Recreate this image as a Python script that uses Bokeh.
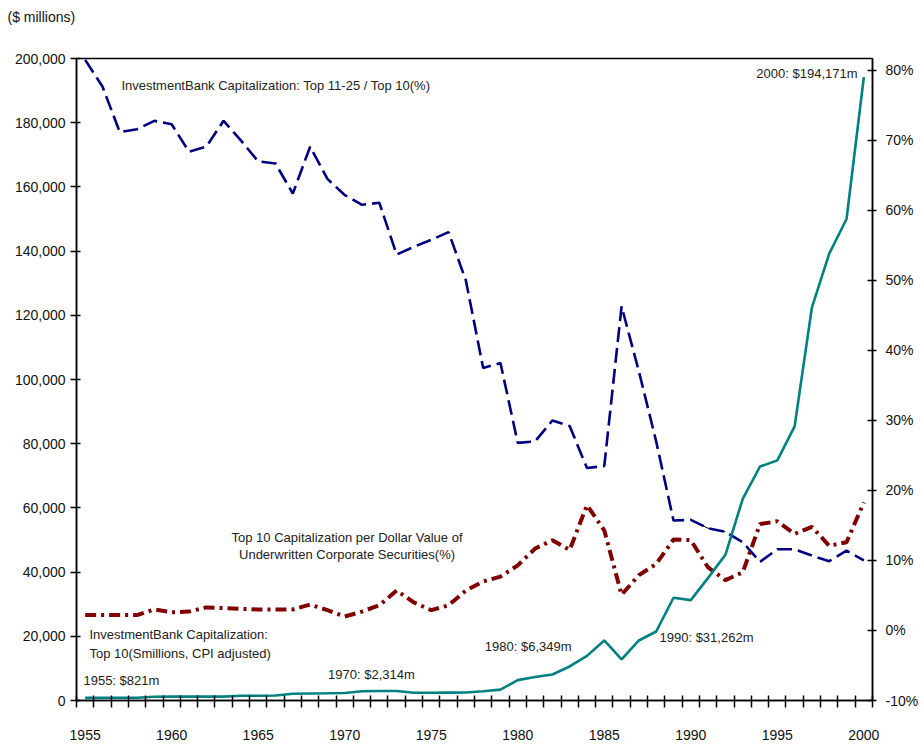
from bokeh.plotting import figure
from bokeh.models import Range1d, LinearAxis, FixedTicker, NumeralTickFormatter, PrintfTickFormatter, Label, ColumnDataSource, Title
from bokeh.embed import file_html
from bokeh.resources import INLINE

years = list(range(1955, 2001))

# Top 10 capitalization ($ millions, CPI adjusted) - left axis
top10_cap = [821, 840, 860, 880, 1150, 1200, 1200, 1200, 1200, 1500, 1500, 1550,
             2100, 2200, 2250, 2314, 2900, 2950, 2950, 2400, 2400, 2450, 2500, 2900,
             3400, 6349, 7300, 8100, 10600, 13900, 18700, 12800, 18700, 21500, 32000,
             31262, 38200, 45400, 62800, 72900, 74800, 85400, 122500, 139200, 150000, 194171]

# Top 11-25 / Top 10 (%) - right axis
ratio_11_25 = [81.5, 77.7, 71.2, 71.6, 72.8, 72.3, 68.4, 69.1, 72.8, 70.0, 67.0, 66.7,
               62.4, 69.1, 64.5, 62.2, 60.8, 61.1, 53.7, 54.8, 55.8, 56.9, 50.0, 37.5,
               38.2, 26.8, 27.0, 30.0, 29.2, 23.2, 23.5, 46.3, 37.0, 27.0, 15.7, 15.8,
               14.6, 14.1, 12.6, 9.8, 11.6, 11.6, 10.7, 9.9, 11.4, 10.0]

# Top 10 capitalization per dollar of underwritten corporate securities (%) - right axis
cap_per_dollar = [2.2, 2.2, 2.2, 2.2, 3.0, 2.6, 2.7, 3.3, 3.2, 3.1, 3.0, 3.0,
                  3.0, 3.7, 2.9, 2.0, 2.7, 3.6, 5.7, 4.0, 2.9, 3.6, 5.7, 7.0,
                  7.7, 9.3, 11.7, 12.9, 11.5, 17.9, 14.3, 5.1, 7.9, 9.5, 13.0, 12.9,
                  9.0, 7.2, 8.3, 15.2, 15.6, 13.8, 14.8, 12.1, 12.6, 18.3]

x_label_years = list(range(1955, 2001, 5))
left_ticks = list(range(0, 200001, 20000))
right_ticks = list(range(-10, 81, 10))

FONT = "Liberation Sans"

p = figure(width=921, height=745, x_range=Range1d(1954.5, 2000.5), y_range=Range1d(0, 200000),
           output_backend="svg", toolbar_location=None, x_axis_type=None, y_axis_type=None,
           min_border_left=76, min_border_right=47, min_border_top=58, min_border_bottom=45,
           title="($ millions)")
p.title.align = "left"
p.title.offset = -69
p.title.standoff = 10
p.title.text_font = FONT
p.title.text_font_size = "14px"
p.title.text_font_style = "normal"
p.title.text_color = "#111111"
# spacer between the title and the plot frame
p.add_layout(Title(text=" ", text_font=FONT, text_font_size="14px", standoff=11), "above")

p.extra_y_ranges = {"pct": Range1d(-10, 81.7)}
p.xgrid.visible = False
p.ygrid.visible = False
p.outline_line_color = "black"
p.outline_line_width = 1.5
p.background_fill_color = "white"
p.border_fill_color = "white"

xaxis = LinearAxis(ticker=FixedTicker(ticks=x_label_years,
                                      minor_ticks=[y - 0.5 for y in years] + [2000.5]))
xaxis.major_tick_in = 0
xaxis.major_tick_out = 0
xaxis.minor_tick_in = 5
xaxis.minor_tick_out = 7
xaxis.minor_tick_line_color = "black"
xaxis.minor_tick_line_width = 1.5
xaxis.axis_line_width = 1.5
xaxis.major_label_standoff = 22
p.add_layout(xaxis, "below")

yaxis = LinearAxis(ticker=FixedTicker(ticks=left_ticks, minor_ticks=[]),
                   formatter=NumeralTickFormatter(format="0,0"))
yaxis.major_tick_in = 4
yaxis.major_tick_out = 6
yaxis.major_label_standoff = 5
yaxis.axis_line_width = 1.5
yaxis.major_tick_line_width = 1.5
p.add_layout(yaxis, "left")

raxis = LinearAxis(y_range_name="pct", ticker=FixedTicker(ticks=right_ticks, minor_ticks=[]),
                   formatter=PrintfTickFormatter(format="%d%%"))
raxis.major_tick_in = 5
raxis.major_tick_out = 4
raxis.major_label_standoff = 9
raxis.axis_line_width = 1.5
raxis.major_tick_line_width = 1.5
p.add_layout(raxis, "right")

for ax in (xaxis, yaxis, raxis):
    ax.major_label_text_font = FONT
    ax.major_label_text_font_size = "14px"
    ax.major_label_text_color = "#111111"
    ax.axis_line_color = "black"
    ax.major_tick_line_color = "black"

src = ColumnDataSource(dict(year=years, cap=top10_cap, ratio=ratio_11_25, perdollar=cap_per_dollar))

# thin black artifact under the dashed line around 1990-1992
i0, i1 = years.index(1990), years.index(1992) + 1
p.line(years[i0:i1], ratio_11_25[i0:i1], y_range_name="pct", line_color="black", line_width=1)

p.line("year", "ratio", source=src, y_range_name="pct", line_color="#000080", line_width=2.6,
       line_dash="15 6")
p.line("year", "perdollar", source=src, y_range_name="pct", line_color="#800000", line_width=4,
       line_dash="11 5 3 5")
p.line("year", "cap", source=src, line_color="#008080", line_width=2.6)

def px_to_x(px):
    return 1955 + (px - 84.7) / 17.333

def py_to_y(py):
    return (700 - py) / 3.21 * 1000

def add_label(text, px, py, align="left", size="13px"):
    p.add_layout(Label(x=px_to_x(px), y=py_to_y(py), text=text, text_font=FONT,
                       text_font_size=size, text_color="#222222", text_align=align,
                       text_baseline="middle"))

add_label("InvestmentBank Capitalization: Top 11-25 / Top 10(%)", 121, 85)
add_label("Top 10 Capitalization per Dollar Value of", 347, 537, align="center")
add_label("Underwritten Corporate Securities(%)", 347, 554, align="center")
add_label("InvestmentBank Capitalization:", 89, 634)
add_label("Top 10(Smillions, CPI adjusted)", 89, 653)
add_label("1955: $821m", 83, 680)
add_label("1970: $2,314m", 328, 674)
add_label("1980: $6,349m", 485, 646)
add_label("1990: $31,262m", 660, 637)
add_label("2000: $194,171m", 757, 73)

open("out.html", "w").write(file_html(p, INLINE))
